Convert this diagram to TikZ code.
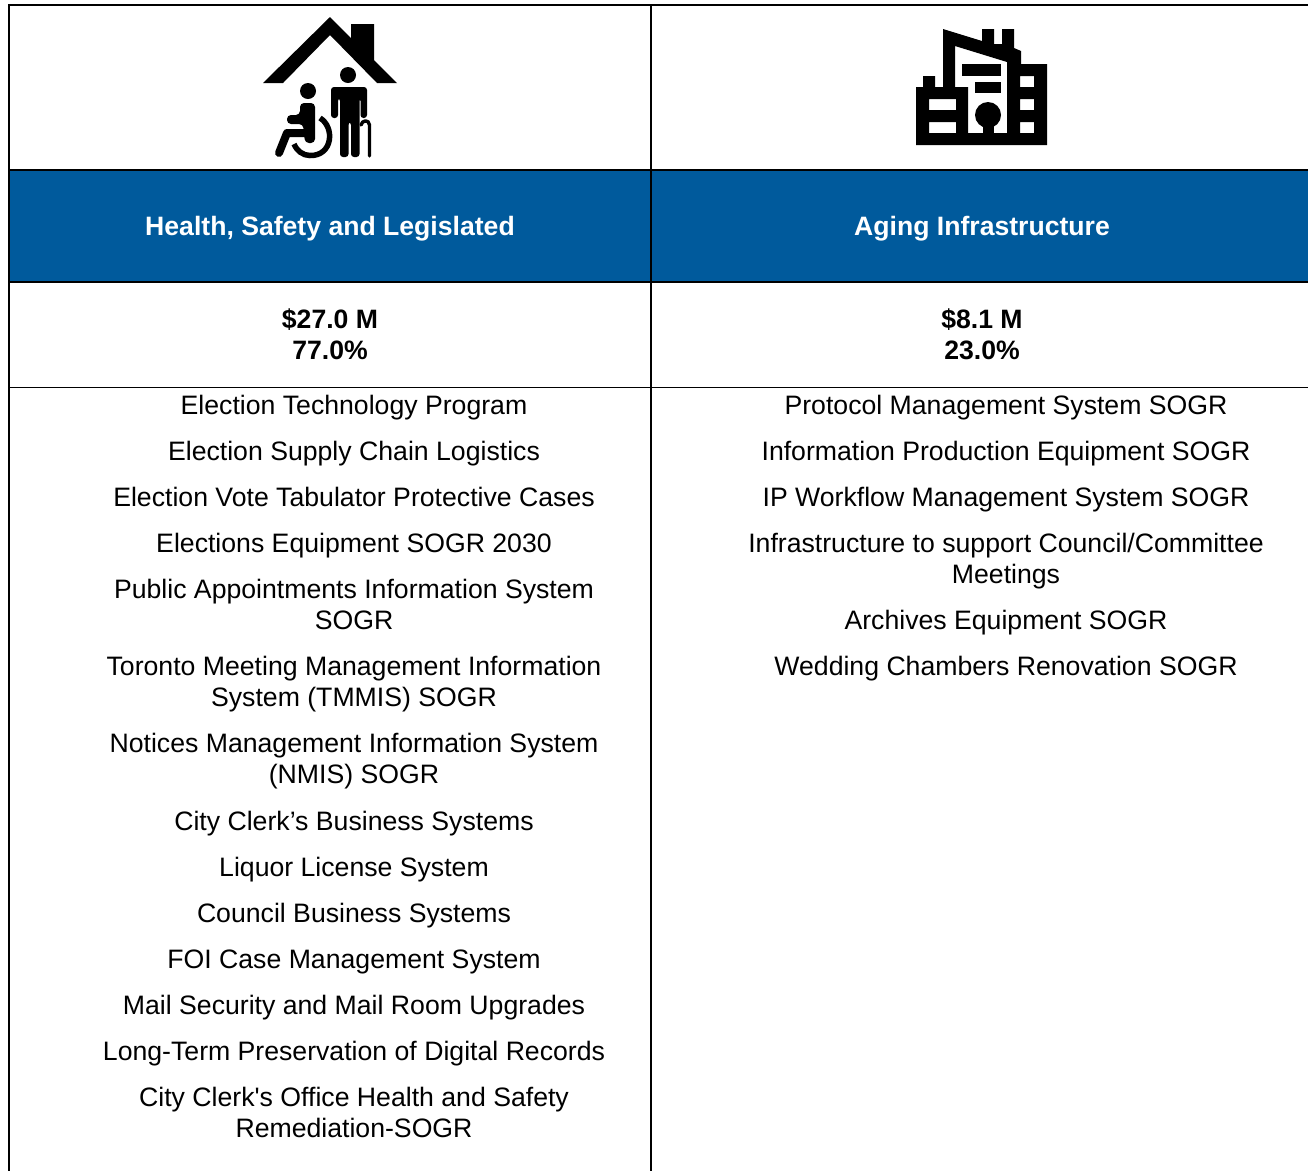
\documentclass[tikz,border=0pt]{standalone}
\usepackage{fontspec}
\setmainfont{Liberation Sans}
\newfontfamily\plainf{Liberation Sans}
\definecolor{hdr}{HTML}{005A9C}
\newcommand{\st}{\rule[-7pt]{0pt}{24pt}}
\tikzset{
  x=1pt,y=-1pt,
  rule/.style={draw=black,line width=2pt},
  hair/.style={draw=black,line width=1.6pt},
  item/.style={font=\fontsize{26.65}{31}\selectfont,align=center,anchor=center,inner sep=0pt},
  head/.style={font=\fontsize{26.6}{31}\selectfont\bfseries,align=center,anchor=center,inner sep=0pt,text=white},
  amt/.style={font=\fontsize{26.6}{31}\selectfont\bfseries,align=center,anchor=center,inner sep=0pt},
  ink/.style={fill=black,draw=none},
  inkline/.style={draw=black,line cap=round,line join=round},
}
\begin{document}
\begin{tikzpicture}
\useasboundingbox (0,0) rectangle (1308,1171);
\fill[white] (0,0) rectangle (1308,1171);
\fill[hdr] (9,170) rectangle (1308,282);
% table rules
\draw[rule] (8,5) -- (1308,5);
\draw[rule] (9,4) -- (9,1171);
\draw[rule] (651,4) -- (651,1171);
\draw[rule] (8,170) -- (1308,170);
\draw[rule] (8,282) -- (1308,282);
\draw[hair] (8,387.5) -- (1308,387.5);
% house icon
\fill[ink] (263,83) -- (330,17) -- (351,38) -- (351,24) -- (374,24) -- (374,60) -- (397,83) -- (377,83) -- (330,35) -- (283,83) -- cycle;
% standing person
\fill[ink] (348,75) circle (8);
\fill[ink,rounded corners=3pt] (331,118) -- (331,87) -- (367,87) -- (367,118) -- (360.5,118) -- (360.5,98) -- (359.5,98) -- (359.5,157) -- (351,157) -- (351,122) -- (348.5,122) -- (348.5,157) -- (340,157) -- (340,98) -- (338,98) -- (338,118) -- cycle;
% cane
\draw[inkline,line width=3.4pt] (361,125) .. controls (362,120) and (369,119) .. (369.5,125) -- (369.5,156);
% wheelchair person
\fill[ink] (308,91) circle (8);
\fill[ink,rounded corners=4pt] (300,103) -- (315,103) -- (315,143) -- (305,143) -- (303,124) -- (287,124) -- (287,115) -- (300,115) -- cycle;
\draw[inkline,line width=8pt] (279,153) -- (287,133) -- (309,133);
\draw[draw=black,line width=5.5pt] (320,118) .. controls (335,127) and (333,156) .. (310,155.5) .. controls (303,155.5) and (297,151) .. (294,144);
% building icon
\fill[ink,even odd rule]
  (943,29) -- (982,41) -- (982,29) -- (994,29) -- (994,44) -- (1002,44) -- (1002,29) -- (1014,29) -- (1014,48) -- (1021,51) -- (1021,64) -- (1047,64) -- (1047,145) -- (916,145) -- (916,87) -- (923,87) -- (923,76) -- (935,76) -- (935,87) -- (943,87) -- cycle
  (955,46) -- (955,87) -- (968,87) -- (968,133) -- (1007,133) -- (1007,62) -- cycle
  (1020,76) rectangle (1034,87)
  (1020,99) rectangle (1034,110)
  (1020,122) rectangle (1034,133)
  (929,99) rectangle (956,110)
  (929,122) rectangle (956,133);
\fill[ink] (962,64) rectangle (1001,76);
\fill[ink] (975,82) rectangle (1001,93);
\fill[ink] (988,115) circle (13);
\fill[ink] (982.5,120) rectangle (994,134);
% headers
\node[head] (h1) at (330,229.5) {\st Health, Safety and Legislated};
\node[head] (h2) at (982,229.5) {\st Aging Infrastructure};
\node[amt] (a1) at (330,338) {\st\$27.0 M\\\st 77.0\%};
\node[amt] (a2) at (982,338) {\st\$8.1 M\\\st 23.0\%};
% left list
\node[item] (l1) at (354,408.5) {\st Election Technology Program};
\node[item] (l2) at (354,454.5) {\st Election Supply Chain Logistics};
\node[item] (l3) at (354,500.5) {\st Election Vote Tabulator Protective Cases};
\node[item] (l4) at (354,546.5) {\st Elections Equipment SOGR 2030};
\node[item] (l5) at (354,608) {\st Public Appointments Information System\\\st SOGR};
\node[item] (l6) at (354,685) {\st Toronto Meeting Management Information\\\st System (TMMIS) SOGR};
\node[item] (l7) at (354,762) {\st Notices Management Information System\\\st (NMIS) SOGR};
\node[item] (l8) at (354,824.5) {\st City Clerk’s Business Systems};
\node[item] (l9) at (354,870.5) {\st Liquor License System};
\node[item] (l10) at (354,916.5) {\st Council Business Systems};
\node[item] (l11) at (354,962.5) {\st FOI Case Management System};
\node[item] (l12) at (354,1008.5) {\st Mail Security and Mail Room Upgrades};
\node[item] (l13) at (354,1054.5) {\st Long-Term Preservation of Digital Records};
\node[item] (l14) at (354,1116) {\st City Clerk{\plainf '}s Office Health and Safety\\\st Remediation-SOGR};
% right list
\node[item] (r1) at (1006,408.5) {\st Protocol Management System SOGR};
\node[item] (r2) at (1006,454.5) {\st Information Production Equipment SOGR};
\node[item] (r3) at (1006,500.5) {\st IP Workflow Management System SOGR};
\node[item] (r4) at (1006,562) {\st Infrastructure to support Council/Committee\\\st Meetings};
\node[item] (r5) at (1006,623.5) {\st Archives Equipment SOGR};
\node[item] (r6) at (1006,669.5) {\st Wedding Chambers Renovation SOGR};
\end{tikzpicture}
\end{document}
